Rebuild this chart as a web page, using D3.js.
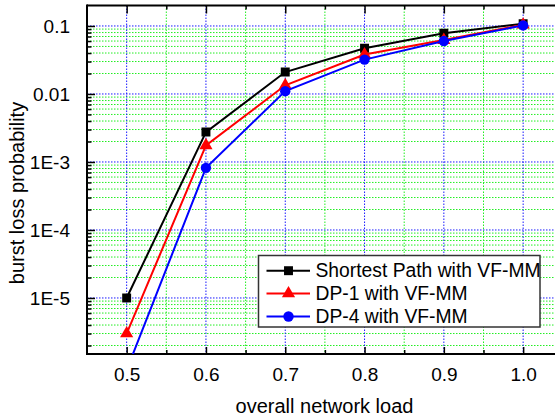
<!DOCTYPE html>
<html>
<head>
<meta charset="utf-8">
<script src="https://cdn.jsdelivr.net/npm/d3@7"></script>
<style>
  html, body { margin: 0; padding: 0; background: #fff; }
  svg { display: block; font-family: "Liberation Sans", Arial, sans-serif; }
</style>
</head>
<body>
<svg id="chart" width="555" height="416"></svg>
<script>
// ---- data ----
const loads = [0.5, 0.6, 0.7, 0.8, 0.9, 1.0];
const seriesNames = ["Shortest Path with VF-MM", "DP-1 with VF-MM", "DP-4 with VF-MM"];
const shortestPath = [1.0e-5, 2.75e-3, 0.021, 0.047, 0.078, 0.108];
const dp1 = [3.0e-6, 1.75e-3, 0.0134, 0.038, 0.062, 0.104];
const dp4 = [8.7e-7, 8.2e-4, 0.011, 0.032, 0.060, 0.102];
const xTickValues = [0.5, 0.6, 0.7, 0.8, 0.9, 1.0];
const xTickLabels = ["0.5", "0.6", "0.7", "0.8", "0.9", "1.0"];
const yTickValues = [0.1, 0.01, 1e-3, 1e-4, 1e-5];
const yTickLabels = ["0.1", "0.01", "1E-3", "1E-4", "1E-5"];
const xTitle = "overall network load";
const yTitle = "burst loss probability";

// ---- layout ----
const svg = d3.select("#chart");
const L = 87, T = 5.5, B = 354, R = 562.8;
const x = d3.scaleLinear().domain([0.45, 1.05]).range([L, R]);
const y = d3.scaleLog().domain([1.5e-6, 0.2]).range([B, T]);

const defs = svg.append("defs");
defs.append("clipPath").attr("id", "plotclip")
  .append("rect").attr("x", L).attr("y", T).attr("width", R - L).attr("height", B - T);

// minor values
const xMinor = d3.range(0.55, 1.06, 0.1).map(v => +v.toFixed(2));
const yMinor = [];
for (let e = -6; e <= -1; e++) {
  for (let m = 2; m <= 9; m++) {
    const v = m * Math.pow(10, e);
    if (v > 1.5e-6 && v < 0.2) yMinor.push(v);
  }
}

// ---- grid ----
const grid = svg.append("g").attr("clip-path", "url(#plotclip)");
grid.selectAll(".ygm").data(yMinor).join("line")
  .attr("x1", L).attr("x2", R).attr("y1", d => y(d)).attr("y2", d => y(d))
  .attr("stroke", "#22ee22").attr("stroke-width", 1).attr("stroke-dasharray", "1.5,1.5");
grid.selectAll(".xgm").data(xMinor).join("line")
  .attr("x1", d => x(d)).attr("x2", d => x(d)).attr("y1", T).attr("y2", B)
  .attr("stroke", "#22ee22").attr("stroke-width", 1).attr("stroke-dasharray", "1.5,1.5");
grid.selectAll(".ygM").data(yTickValues).join("line")
  .attr("x1", L).attr("x2", R).attr("y1", d => y(d)).attr("y2", d => y(d))
  .attr("stroke", "#1a1aff").attr("stroke-width", 1).attr("stroke-dasharray", "1.5,1.5");
grid.selectAll(".xgM").data(xTickValues).join("line")
  .attr("x1", d => x(d)).attr("x2", d => x(d)).attr("y1", T).attr("y2", B)
  .attr("stroke", "#1a1aff").attr("stroke-width", 1).attr("stroke-dasharray", "1.5,1.5");

// ---- axes ----
const fmtX = d => xTickLabels[xTickValues.indexOf(d)];
const fmtY = d => yTickLabels[yTickValues.indexOf(d)];

function styleAxis(g) {
  g.select(".domain").remove();
  g.selectAll(".tick line").attr("stroke", "#000").attr("stroke-width", 1.5);
  g.selectAll(".tick text").attr("fill", "#000").style("font-size", "19px")
    .style("font-family", "'Liberation Sans', Arial, sans-serif");
}

// bottom: major
const gxB = svg.append("g").attr("transform", `translate(0,${B})`)
  .call(d3.axisBottom(x).tickValues(xTickValues).tickFormat(fmtX).tickSizeInner(-7).tickSizeOuter(0).tickPadding(14));
styleAxis(gxB);
gxB.selectAll(".tick text").attr("dy", "0.68em");
svg.append("g").attr("transform", `translate(0,${B})`)
  .call(d3.axisBottom(x).tickValues(xMinor).tickFormat("").tickSizeInner(-4).tickSizeOuter(0))
  .call(styleAxis);
// top
svg.append("g").attr("transform", `translate(0,${T})`)
  .call(d3.axisTop(x).tickValues(xTickValues).tickFormat("").tickSizeInner(-8).tickSizeOuter(0))
  .call(styleAxis);
svg.append("g").attr("transform", `translate(0,${T})`)
  .call(d3.axisTop(x).tickValues(xMinor).tickFormat("").tickSizeInner(-4).tickSizeOuter(0))
  .call(styleAxis);
// left
const gyL = svg.append("g").attr("transform", `translate(${L},0)`)
  .call(d3.axisLeft(y).tickValues(yTickValues).tickFormat(fmtY).tickSizeInner(-8).tickSizeOuter(0).tickPadding(17));
styleAxis(gyL);
svg.append("g").attr("transform", `translate(${L},0)`)
  .call(d3.axisLeft(y).tickValues(yMinor).tickFormat("").tickSizeInner(-4.5).tickSizeOuter(0))
  .call(styleAxis);

// frame lines
svg.append("line").attr("x1", L).attr("x2", R).attr("y1", T).attr("y2", T).attr("stroke", "#000").attr("stroke-width", 2);
svg.append("line").attr("x1", L).attr("x2", R).attr("y1", B).attr("y2", B).attr("stroke", "#000").attr("stroke-width", 2);
svg.append("line").attr("x1", L).attr("x2", L).attr("y1", T - 1).attr("y2", B + 1).attr("stroke", "#000").attr("stroke-width", 2);

// ---- series ----
const series = [
  { name: seriesNames[0], values: shortestPath, color: "#000000", marker: "square" },
  { name: seriesNames[1], values: dp1, color: "#ff0000", marker: "triangle" },
  { name: seriesNames[2], values: dp4, color: "#0000ff", marker: "circle" }
];
const symbols = {
  square: d3.symbol().type(d3.symbolSquare).size(80),
  triangle: d3.symbol().type(d3.symbolTriangle).size(75),
  circle: d3.symbol().type(d3.symbolCircle).size(85)
};
const line = d3.line().x((d, i) => x(loads[i])).y(d => y(d));
const plot = svg.append("g").attr("clip-path", "url(#plotclip)");
series.forEach(s => {
  const g = plot.append("g");
  g.append("path").attr("d", line(s.values)).attr("fill", "none")
    .attr("stroke", s.color).attr("stroke-width", 2);
  g.selectAll("path.m").data(s.values).join("path").attr("class", "m")
    .attr("transform", (d, i) => `translate(${x(loads[i])},${y(d)})`)
    .attr("d", symbols[s.marker]()).attr("fill", s.color);
});

// ---- legend ----
const lg = svg.append("g");
lg.append("rect").attr("x", 258.5).attr("y", 255.5).attr("width", 281.5).attr("height", 71.5)
  .attr("fill", "#fff").attr("stroke", "#333").attr("stroke-width", 1.5);
const rowY = [270.7, 293.5, 316.5];
series.forEach((s, i) => {
  lg.append("line").attr("x1", 266.5).attr("x2", 310).attr("y1", rowY[i]).attr("y2", rowY[i])
    .attr("stroke", s.color).attr("stroke-width", 2);
  lg.append("path").attr("transform", `translate(288.5,${rowY[i]})`)
    .attr("d", symbols[s.marker]()).attr("fill", s.color);
  lg.append("text").attr("x", 315.5).attr("y", rowY[i]).attr("dy", "0.35em")
    .style("font-size", "19.3px").attr("fill", "#000").text(s.name);
});

// ---- axis titles ----
svg.append("text").attr("x", 324.5).attr("y", 413).attr("text-anchor", "middle")
  .style("font-size", "20px").attr("fill", "#000").text(xTitle);
svg.append("text").attr("transform", "translate(23.5,193) rotate(-90)").attr("text-anchor", "middle")
  .style("font-size", "20px").attr("fill", "#000").text(yTitle);
</script>
</body>
</html>
